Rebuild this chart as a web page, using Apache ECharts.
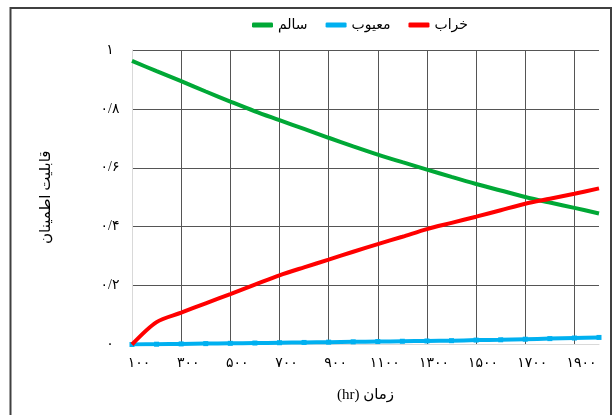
<!DOCTYPE html>
<html>
<head>
<meta charset="utf-8">
<script src="https://cdn.jsdelivr.net/npm/echarts@6/dist/echarts.min.js"></script>
<style>
  html, body { margin: 0; padding: 0; background: #fff; }
  #chart { width: 614px; height: 415px; }
</style>
</head>
<body>
<div id="chart"></div>
<script>
// Operating time in hours (category axis)
const hours = [100, 200, 300, 400, 500, 600, 700, 800, 900, 1000,
               1100, 1200, 1300, 1400, 1500, 1600, 1700, 1800, 1900, 2000];

// State probabilities over time
const healthy = [0.963, 0.928, 0.894, 0.859, 0.825, 0.792, 0.762, 0.732, 0.702, 0.673,
                 0.645, 0.619, 0.594, 0.569, 0.545, 0.523, 0.501, 0.482, 0.464, 0.445];
const degraded = [0.000, 0.001, 0.002, 0.003, 0.004, 0.005, 0.006, 0.007, 0.008, 0.009,
                  0.010, 0.011, 0.012, 0.013, 0.015, 0.016, 0.018, 0.020, 0.022, 0.024];
const failed = [0.000, 0.076, 0.108, 0.140, 0.171, 0.203, 0.235, 0.262, 0.288, 0.315,
                0.341, 0.366, 0.392, 0.413, 0.434, 0.456, 0.478, 0.495, 0.512, 0.530];

const seriesNames = ['سالم', 'معیوب', 'خراب'];
const yTicks = [0, 0.2, 0.4, 0.6, 0.8, 1];
const xTitle = '(hr) زمان';
const yTitle = 'قابلیت اطمینان';

const faDigits = '۰۱۲۳۴۵۶۷۸۹';
function toFa(str) {
  return String(str).replace(/[0-9]/g, d => faDigits[+d]).replace('.', '/');
}

const FONT = "'Liberation Serif', 'DejaVu Sans', serif";

const chart = echarts.init(document.getElementById('chart'), null, { renderer: 'canvas' });

chart.setOption({
  animation: false,
  backgroundColor: '#ffffff',
  textStyle: { fontFamily: FONT },
  graphic: [{
    type: 'rect',
    shape: { x: 10.5, y: 8, width: 600.5, height: 430 },
    style: { fill: 'none', stroke: '#404040', lineWidth: 2 },
    silent: true
  }],
  legend: {
    data: seriesNames,
    left: 247,
    top: 13,
    icon: 'roundRect',
    itemWidth: 21,
    itemHeight: 5,
    itemGap: 18,
    textStyle: { fontFamily: FONT, fontSize: 14, color: '#000' }
  },
  grid: { left: 132, right: 15, top: 50, bottom: 70.5 },
  xAxis: {
    type: 'category',
    boundaryGap: false,
    data: hours.map(toFa),
    name: xTitle,
    nameLocation: 'middle',
    nameGap: 43,
    nameTextStyle: { fontFamily: FONT, fontSize: 15, color: '#000' },
    axisLine: { show: true, lineStyle: { color: '#d9d9d9', width: 1 } },
    axisTick: { show: false },
    axisLabel: {
      interval: 1,
      margin: 12,
      padding: [0, 0, 0, 14],
      fontFamily: FONT, fontSize: 14, color: '#000'
    },
    splitLine: {
      show: true,
      interval: (i) => i > 0 && i % 2 === 0,
      lineStyle: { color: '#555', width: 1 }
    }
  },
  yAxis: {
    type: 'value',
    min: 0,
    max: 1,
    interval: 0.2,
    name: yTitle,
    nameLocation: 'middle',
    nameRotate: 90,
    nameGap: 78,
    nameTextStyle: { fontFamily: FONT, fontSize: 15, color: '#000' },
    axisLine: { show: true, lineStyle: { color: '#d9d9d9', width: 1 } },
    axisTick: { show: false },
    axisLabel: {
      margin: 22,
      align: 'center',
      fontFamily: FONT, fontSize: 14, color: '#000',
      formatter: (v) => toFa(yTicks.includes(+v.toFixed(1)) ? +v.toFixed(1) : v)
    },
    splitLine: { show: true, lineStyle: { color: '#555', width: 1 } }
  },
  series: [
    {
      name: seriesNames[0],
      type: 'line',
      data: healthy,
      smooth: 0.3,
      showSymbol: false,
      lineStyle: { color: '#00a836', width: 4 },
      itemStyle: { color: '#00a836' },
      z: 3
    },
    {
      name: seriesNames[1],
      type: 'line',
      data: degraded,
      smooth: 0.3,
      symbol: 'rect',
      symbolSize: 5,
      showSymbol: true,
      lineStyle: { color: '#00b0f0', width: 4 },
      itemStyle: { color: '#00b0f0' },
      z: 2
    },
    {
      name: seriesNames[2],
      type: 'line',
      data: failed,
      smooth: 0.3,
      showSymbol: false,
      lineStyle: { color: '#ff0000', width: 4 },
      itemStyle: { color: '#ff0000' },
      z: 4
    }
  ]
});
</script>
</body>
</html>
